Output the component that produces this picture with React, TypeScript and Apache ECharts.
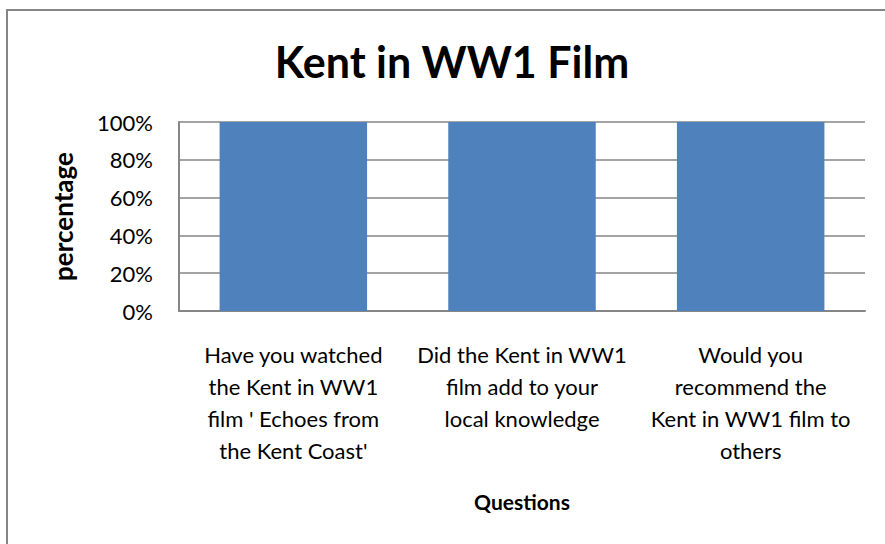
import React, { useEffect, useRef } from "react";
import * as echarts from "echarts";

const categories = [
  "Have you watched\nthe Kent in WW1\nfilm ' Echoes from\nthe Kent Coast'",
  "Did the Kent in WW1\nfilm add to your\nlocal knowledge",
  "Would you\nrecommend the\nKent in WW1 film to\nothers",
];
const values = [1, 1, 1];
const yTicks = [0, 0.2, 0.4, 0.6, 0.8, 1];

const FONT = "Lato, 'Open Sans', sans-serif";

export default function App() {
  const ref = useRef<HTMLDivElement>(null);
  useEffect(() => {
    if (!ref.current) return;
    const chart = echarts.init(ref.current, null, { renderer: "svg" });
    chart.setOption({
      animation: false,
      backgroundColor: "#ffffff",
      textStyle: { fontFamily: FONT },
      title: {
        text: "Kent in WW1 Film",
        left: 447,
        top: 35,
        textAlign: "center",
        textStyle: { fontFamily: FONT, fontWeight: "bold", fontSize: 43, color: "#000" },
      },
      graphic: [
        {
          type: "rect",
          shape: { x: 7, y: 10, width: 920, height: 600 },
          style: { fill: "none", stroke: "#868686", lineWidth: 2 },
          silent: true,
        },
      ],
      grid: { left: 179, right: 20, top: 122, bottom: 233 },
      xAxis: {
        type: "category",
        data: categories,
        name: "Questions",
        nameLocation: "middle",
        nameGap: 180,
        nameTextStyle: { fontFamily: FONT, fontWeight: "bold", fontSize: 21, color: "#000" },
        axisLine: { lineStyle: { color: "#868686", width: 2 } },
        axisTick: { show: false },
        axisLabel: {
          interval: 0,
          margin: 27,
          fontFamily: FONT,
          fontSize: 22,
          lineHeight: 32,
          color: "#000",
          align: "center",
        },
      },
      yAxis: {
        type: "value",
        min: 0,
        max: 1,
        interval: 0.2,
        name: "percentage",
        nameLocation: "middle",
        nameGap: 103,
        nameRotate: 90,
        nameTextStyle: { fontFamily: FONT, fontWeight: "bold", fontSize: 26, color: "#000" },
        axisLine: { show: true, lineStyle: { color: "#868686", width: 2 } },
        axisTick: { show: false },
        splitLine: { lineStyle: { color: "#868686", width: 1.5 } },
        axisLabel: {
          margin: 26,
          fontFamily: FONT,
          fontSize: 22,
          color: "#000",
          formatter: (v: number) => (yTicks.includes(Math.round(v * 10) / 10) ? Math.round(v * 100) + "%" : ""),
        },
      },
      series: [
        {
          type: "bar",
          data: values,
          barCategoryGap: "35.5%",
          itemStyle: { color: "#4F81BD" },
        },
      ],
    });
    return () => chart.dispose();
  }, []);
  return (
    <div
      ref={ref}
      style={{ position: "absolute", left: 0, top: 0, width: 885, height: 544 }}
    />
  );
}
